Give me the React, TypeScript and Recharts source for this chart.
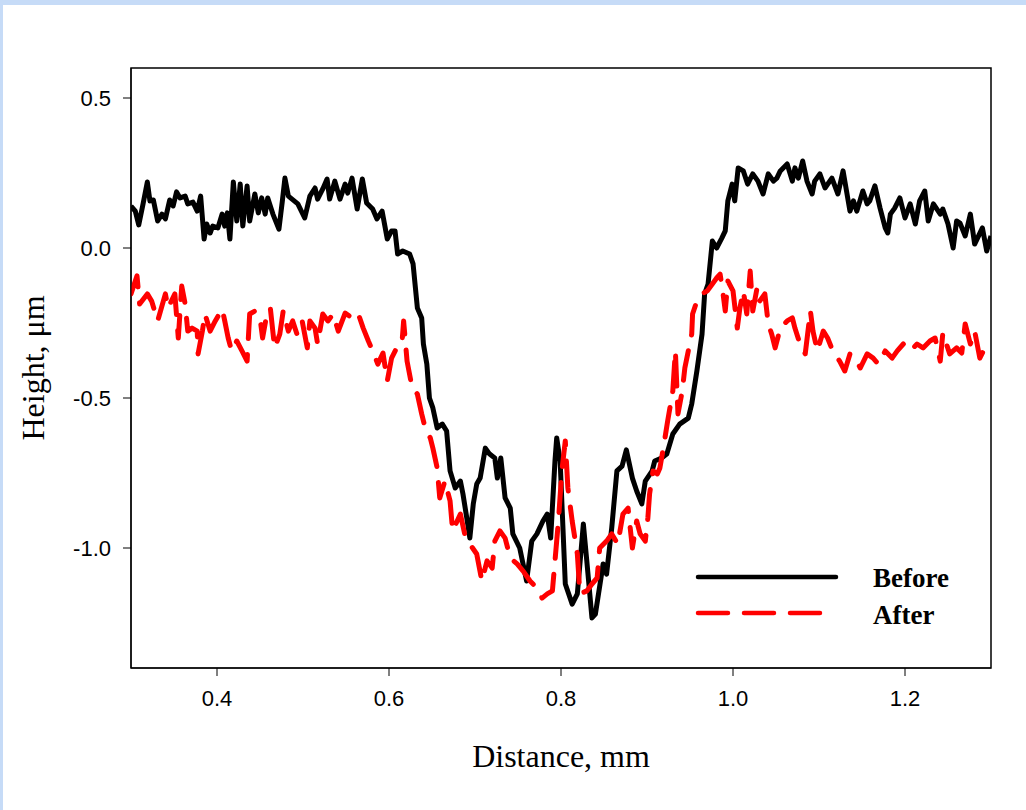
import React from "react";
import {
  LineChart,
  Line,
  XAxis,
  YAxis,
  ReferenceArea,
  Label,
} from "recharts";

// [distance mm, height µm]
const BEFORE: [number, number][] = [
  [0.3, 0.14], [0.305, 0.123], [0.309, 0.077], [0.314, 0.147], [0.319, 0.22],
  [0.322, 0.157], [0.326, 0.16], [0.331, 0.09], [0.336, 0.113], [0.34, 0.097],
  [0.345, 0.16], [0.349, 0.14], [0.353, 0.187], [0.357, 0.167], [0.363, 0.173],
  [0.366, 0.147], [0.372, 0.153], [0.377, 0.123], [0.381, 0.173], [0.385, 0.03],
  [0.388, 0.08], [0.392, 0.05], [0.395, 0.073], [0.401, 0.067], [0.406, 0.113],
  [0.409, 0.073], [0.412, 0.117], [0.415, 0.03], [0.419, 0.22], [0.423, 0.09],
  [0.427, 0.213], [0.43, 0.073], [0.435, 0.207], [0.438, 0.09], [0.444, 0.18],
  [0.448, 0.117], [0.452, 0.167], [0.456, 0.113], [0.459, 0.167], [0.465, 0.113],
  [0.472, 0.063], [0.476, 0.157], [0.479, 0.233], [0.483, 0.173], [0.494, 0.147],
  [0.502, 0.1], [0.508, 0.173], [0.514, 0.2], [0.517, 0.163], [0.523, 0.197],
  [0.528, 0.23], [0.531, 0.163], [0.537, 0.223], [0.543, 0.163], [0.549, 0.213],
  [0.552, 0.183], [0.557, 0.233], [0.563, 0.13], [0.569, 0.23], [0.574, 0.15],
  [0.581, 0.13], [0.586, 0.097], [0.592, 0.123], [0.598, 0.03], [0.603, 0.057],
  [0.607, 0.057], [0.61, -0.02], [0.616, -0.01], [0.624, -0.02], [0.628, -0.053],
  [0.633, -0.2], [0.638, -0.233], [0.64, -0.32], [0.644, -0.387], [0.647, -0.5],
  [0.651, -0.533], [0.656, -0.6], [0.662, -0.587], [0.667, -0.61], [0.671, -0.743],
  [0.677, -0.8], [0.683, -0.777], [0.686, -0.82], [0.691, -0.91], [0.694, -0.967],
  [0.698, -0.853], [0.702, -0.787], [0.706, -0.767], [0.712, -0.667], [0.717, -0.687],
  [0.723, -0.7], [0.726, -0.767], [0.73, -0.7], [0.735, -0.833], [0.741, -0.867],
  [0.744, -0.953], [0.752, -1.0], [0.76, -1.11], [0.766, -0.977], [0.772, -0.953],
  [0.779, -0.91], [0.784, -0.887], [0.788, -0.967], [0.793, -0.71], [0.795, -0.633],
  [0.799, -0.71], [0.805, -1.12], [0.813, -1.187], [0.819, -1.153], [0.826, -0.92],
  [0.83, -1.043], [0.836, -1.233], [0.84, -1.22], [0.849, -1.053], [0.853, -1.087],
  [0.859, -0.933], [0.865, -0.743], [0.871, -0.727], [0.876, -0.673], [0.883, -0.767],
  [0.888, -0.81], [0.894, -0.853], [0.898, -0.777], [0.906, -0.743], [0.909, -0.71],
  [0.917, -0.7], [0.923, -0.687], [0.93, -0.62], [0.938, -0.587], [0.948, -0.567],
  [0.952, -0.52], [0.958, -0.41], [0.964, -0.287], [0.967, -0.153], [0.971, -0.12],
  [0.976, 0.023], [0.981, 0.0], [0.987, 0.033], [0.991, 0.057], [0.994, 0.157],
  [0.999, 0.213], [1.002, 0.157], [1.006, 0.267], [1.012, 0.257], [1.017, 0.213],
  [1.023, 0.247], [1.029, 0.223], [1.035, 0.18], [1.041, 0.247], [1.047, 0.223],
  [1.051, 0.233], [1.055, 0.257], [1.063, 0.28], [1.069, 0.223], [1.072, 0.267],
  [1.076, 0.233], [1.081, 0.29], [1.086, 0.223], [1.092, 0.18], [1.095, 0.223],
  [1.101, 0.247], [1.107, 0.2], [1.115, 0.233], [1.122, 0.18], [1.128, 0.257],
  [1.136, 0.123], [1.14, 0.157], [1.144, 0.123], [1.151, 0.19], [1.156, 0.147],
  [1.159, 0.157], [1.165, 0.207], [1.171, 0.133], [1.177, 0.067], [1.18, 0.05],
  [1.183, 0.113], [1.188, 0.133], [1.194, 0.167], [1.2, 0.1], [1.206, 0.147],
  [1.212, 0.08], [1.217, 0.157], [1.223, 0.19], [1.227, 0.09], [1.233, 0.147],
  [1.241, 0.113], [1.244, 0.13], [1.25, 0.08], [1.256, 0.0], [1.26, 0.09],
  [1.264, 0.083], [1.27, 0.04], [1.276, 0.113], [1.281, 0.013], [1.29, 0.067],
  [1.295, -0.01], [1.3, 0.04],
];

const AFTER: [number, number][] = [
  [0.3, -0.153], [0.307, -0.093], [0.31, -0.187], [0.319, -0.153], [0.324, -0.177],
  [0.331, -0.243], [0.34, -0.153], [0.343, -0.2], [0.351, -0.153], [0.355, -0.3],
  [0.359, -0.127], [0.363, -0.187], [0.366, -0.277], [0.371, -0.267], [0.377, -0.277],
  [0.378, -0.353], [0.383, -0.277], [0.386, -0.22], [0.392, -0.277], [0.398, -0.243],
  [0.406, -0.203], [0.409, -0.243], [0.413, -0.3], [0.417, -0.343], [0.423, -0.31],
  [0.429, -0.343], [0.435, -0.377], [0.438, -0.22], [0.444, -0.21], [0.45, -0.233],
  [0.453, -0.3], [0.458, -0.22], [0.462, -0.2], [0.467, -0.333], [0.473, -0.287],
  [0.477, -0.21], [0.483, -0.277], [0.488, -0.243], [0.493, -0.287], [0.499, -0.243],
  [0.505, -0.333], [0.508, -0.243], [0.514, -0.267], [0.517, -0.32], [0.523, -0.22],
  [0.529, -0.243], [0.535, -0.22], [0.541, -0.277], [0.549, -0.217], [0.557, -0.233],
  [0.564, -0.217], [0.57, -0.267], [0.576, -0.31], [0.581, -0.343], [0.587, -0.387],
  [0.593, -0.35], [0.598, -0.443], [0.603, -0.367], [0.609, -0.333], [0.615, -0.32],
  [0.617, -0.243], [0.621, -0.377], [0.627, -0.467], [0.633, -0.487], [0.638, -0.553],
  [0.643, -0.61], [0.648, -0.633], [0.651, -0.667], [0.656, -0.733], [0.659, -0.833],
  [0.665, -0.777], [0.671, -0.843], [0.674, -0.943], [0.683, -0.887], [0.688, -0.953],
  [0.694, -0.987], [0.702, -1.02], [0.708, -1.11], [0.714, -1.043], [0.72, -1.067],
  [0.723, -0.977], [0.729, -0.943], [0.735, -0.967], [0.741, -1.033], [0.749, -1.053],
  [0.756, -1.077], [0.764, -1.11], [0.772, -1.133], [0.778, -1.167], [0.784, -1.153],
  [0.79, -1.143], [0.793, -1.043], [0.797, -0.91], [0.801, -0.743], [0.805, -0.643],
  [0.808, -0.8], [0.813, -0.91], [0.819, -1.02], [0.822, -1.153], [0.83, -1.143],
  [0.836, -1.12], [0.842, -1.1], [0.845, -1.0], [0.853, -0.977], [0.859, -0.953],
  [0.866, -0.987], [0.872, -0.887], [0.878, -0.867], [0.883, -1.0], [0.888, -0.91],
  [0.892, -0.953], [0.898, -0.977], [0.901, -0.9], [0.903, -0.82], [0.907, -0.743],
  [0.912, -0.753], [0.915, -0.733], [0.919, -0.667], [0.924, -0.577], [0.93, -0.477],
  [0.933, -0.343], [0.936, -0.553], [0.941, -0.477], [0.944, -0.4], [0.948, -0.343],
  [0.952, -0.287], [0.953, -0.22], [0.958, -0.177], [0.964, -0.153], [0.97, -0.143],
  [0.976, -0.12], [0.981, -0.1], [0.985, -0.087], [0.988, -0.143], [0.991, -0.21],
  [0.994, -0.11], [1.0, -0.143], [1.005, -0.267], [1.008, -0.2], [1.012, -0.143],
  [1.016, -0.22], [1.02, -0.077], [1.023, -0.21], [1.028, -0.133], [1.031, -0.177],
  [1.037, -0.153], [1.041, -0.253], [1.045, -0.287], [1.049, -0.333], [1.055, -0.267],
  [1.063, -0.243], [1.069, -0.233], [1.072, -0.267], [1.078, -0.32], [1.084, -0.353],
  [1.09, -0.21], [1.093, -0.277], [1.098, -0.343], [1.105, -0.277], [1.11, -0.3],
  [1.116, -0.343], [1.124, -0.377], [1.13, -0.41], [1.136, -0.353], [1.142, -0.367],
  [1.148, -0.4], [1.156, -0.353], [1.163, -0.367], [1.169, -0.387], [1.177, -0.343],
  [1.185, -0.367], [1.191, -0.343], [1.198, -0.32], [1.206, -0.343], [1.214, -0.32],
  [1.221, -0.333], [1.229, -0.31], [1.235, -0.3], [1.241, -0.377], [1.244, -0.283],
  [1.252, -0.353], [1.26, -0.333], [1.266, -0.35], [1.27, -0.253], [1.276, -0.32],
  [1.281, -0.277], [1.287, -0.367], [1.293, -0.333], [1.299, -0.343],
];

const X_TICKS = [0.4, 0.6, 0.8, 1.0, 1.2];
const Y_TICKS = [-1.0, -0.5, 0.0, 0.5];
const X_DOMAIN = [0.3, 1.3];
const Y_DOMAIN = [-1.4, 0.6];

const beforeData = BEFORE.map(([d, h]) => ({ d, h }));
const afterData = AFTER.map(([d, h]) => ({ d, h }));

const SANS = "'Liberation Sans', Arial, sans-serif";
const SERIF = "'Liberation Serif', 'Times New Roman', serif";

function LegendBox() {
  return (
    <svg
      width={280}
      height={70}
      style={{ position: "absolute", left: 694, top: 564 }}
    >
      <line x1={4} y1={13} x2={142} y2={13} stroke="#000" strokeWidth={4.5} strokeLinecap="round" />
      <line
        x1={4}
        y1={49}
        x2={128}
        y2={49}
        stroke="#ff0000"
        strokeWidth={4.5}
        strokeLinecap="round"
        strokeDasharray="30 16"
      />
      <text x={179} y={23} fontFamily={SERIF} fontWeight="bold" fontSize={27} fill="#000">
        Before
      </text>
      <text x={179} y={60} fontFamily={SERIF} fontWeight="bold" fontSize={27} fill="#000">
        After
      </text>
    </svg>
  );
}

export default function App() {
  return (
    <div
      style={{
        position: "absolute",
        left: 0,
        top: 0,
        width: 1026,
        height: 810,
        background: "#c6dbf7",
        overflow: "hidden",
      }}
    >
      <div
        style={{
          position: "absolute",
          left: 3,
          top: 5,
          width: 1023,
          height: 805,
          background: "#fff",
        }}
      />
      <div style={{ position: "absolute", left: 0, top: 0 }}>
        <LineChart
          width={1026}
          height={810}
          margin={{ top: 68, right: 35, bottom: 82, left: 31 }}
        >
          <XAxis
            dataKey="d"
            type="number"
            domain={X_DOMAIN}
            ticks={X_TICKS}
            allowDataOverflow
            height={60}
            tickSize={8}
            tickMargin={14}
            stroke="#000"
            tick={{ fill: "#000", fontSize: 22, fontFamily: SANS }}
            tickFormatter={(v) => v.toFixed(1)}
          >
            <Label
              content={() => (
                <text x={561} y={767} textAnchor="middle" fontFamily={SERIF} fontSize={32} fill="#000">
                  Distance, mm
                </text>
              )}
            />
          </XAxis>
          <YAxis
            dataKey="h"
            type="number"
            domain={Y_DOMAIN}
            ticks={Y_TICKS}
            allowDataOverflow
            width={100}
            tickSize={8}
            tickMargin={12}
            stroke="#000"
            tick={{ fill: "#000", fontSize: 22, fontFamily: SANS }}
            tickFormatter={(v) => v.toFixed(1)}
          >
            <Label
              content={() => (
                <text
                  x={44}
                  y={368}
                  transform="rotate(-90 44 368)"
                  textAnchor="middle"
                  fontFamily={SERIF}
                  fontSize={32}
                  fill="#000"
                >
                  Height, μm
                </text>
              )}
            />
          </YAxis>
          <ReferenceArea
            x1={0.3}
            x2={1.3}
            y1={-1.4}
            y2={0.6}
            fill="none"
            stroke="#000"
            strokeWidth={1.5}
            ifOverflow="visible"
          />
          <Line
            data={beforeData}
            dataKey="h"
            name="Before"
            type="linear"
            stroke="#000"
            strokeWidth={5}
            strokeLinejoin="round"
            dot={false}
            activeDot={false}
            isAnimationActive={false}
          />
          <Line
            data={afterData}
            dataKey="h"
            name="After"
            type="linear"
            stroke="#ff0000"
            strokeWidth={5}
            strokeLinejoin="round"
            strokeLinecap="round"
            strokeDasharray="30 16"
            dot={false}
            activeDot={false}
            isAnimationActive={false}
          />
        </LineChart>
      </div>
      <LegendBox />
    </div>
  );
}
